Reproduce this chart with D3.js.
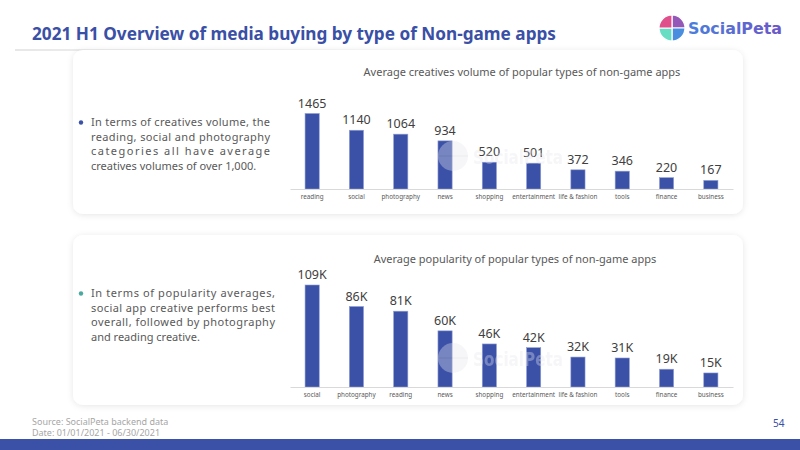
<!DOCTYPE html>
<html>
<head>
<meta charset="utf-8">
<title>2021 H1 Overview of media buying by type of Non-game apps</title>
<style>
body { margin: 0; background: #fff; }
svg { display: block; font-family: "Noto Sans", "Open Sans", sans-serif; }
.bartext { font-size: 12.5px; fill: #404040; }
.cat text { font-size: 6.3px; fill: #595959; }
.ctitle { font-size: 11px; fill: #595959; }
.note { font-size: 11px; fill: #595959; }
.foot { font-size: 9px; fill: #a6a6a6; }
</style>
</head>
<body>
<svg width="800" height="450"></svg>
<script src="https://cdn.jsdelivr.net/npm/d3@7"></script>
<script>

// data
var creativeCats = ["reading", "social", "photography", "news", "shopping", "entertainment", "life & fashion", "tools", "finance", "business"];
var creativeVals = [1465, 1140, 1064, 934, 520, 501, 372, 346, 220, 167];

var popCats = ["social", "photography", "reading", "news", "shopping", "entertainment", "life & fashion", "tools", "finance", "business"];
var popVals = [109, 86, 81, 60, 46, 42, 32, 31, 19, 15];   // thousands

var blue = "#3b51a8";

var svg = d3.select("svg");
var defs = svg.append("defs");

var shadow = defs.append("filter").attr("id", "shadow")
  .attr("x", "-10%").attr("y", "-20%").attr("width", "120%").attr("height", "140%");
shadow.append("feDropShadow").attr("dx", 0).attr("dy", 1).attr("stdDeviation", 3)
  .attr("flood-color", "#000").attr("flood-opacity", 0.10);

var fade = defs.append("linearGradient").attr("id", "fade");
fade.append("stop").attr("offset", "0%").attr("stop-color", "#d0d0d0");
fade.append("stop").attr("offset", "100%").attr("stop-color", "#ffffff");

var logoGrad = defs.append("linearGradient").attr("id", "logoText");
logoGrad.append("stop").attr("offset", "0%").attr("stop-color", "#4a7fdc");
logoGrad.append("stop").attr("offset", "100%").attr("stop-color", "#6b57c7");

// header
svg.append("text")
  .attr("x", 32).attr("y", 40)
  .attr("fill", "#3a4fa6")
  .style("font-size", "18px").style("font-weight", "bold")
  .attr("textLength", 524).attr("lengthAdjust", "spacingAndGlyphs")
  .text("2021 H1 Overview of media buying by type of Non-game apps");

svg.append("rect").attr("x", 15).attr("y", 49.5).attr("width", 420).attr("height", 1)
  .attr("fill", "url(#fade)");

// logo
var logo = svg.append("g").attr("transform", "translate(672,28)");
var quads = [
  {a0: -Math.PI / 2, a1: 0, c: "#9557b8"},
  {a0: 0, a1: Math.PI / 2, c: "#4a8ee0"},
  {a0: Math.PI / 2, a1: Math.PI, c: "#69dcc4"},
  {a0: Math.PI, a1: Math.PI * 1.5, c: "#e0508a"}
];
logo.selectAll("path").data(quads).enter().append("path")
  .attr("d", function(d) { return d3.arc().innerRadius(0).outerRadius(13).startAngle(d.a0 + Math.PI / 2).endAngle(d.a1 + Math.PI / 2)(); })
  .attr("fill", function(d) { return d.c; })
  .attr("stroke", "#fff").attr("stroke-width", 1.2);
svg.append("text")
  .attr("x", 688).attr("y", 34)
  .attr("fill", "url(#logoText)")
  .style("font-family", "'DejaVu Sans Condensed', 'DejaVu Sans', sans-serif")
  .style("font-size", "16px").style("font-weight", "bold")
  .attr("textLength", 94).attr("lengthAdjust", "spacingAndGlyphs")
  .text("SocialPeta");

// cards
svg.append("rect").attr("x", 73).attr("y", 50).attr("width", 670).attr("height", 164)
  .attr("rx", 10).attr("fill", "#fff").attr("filter", "url(#shadow)");
svg.append("rect").attr("x", 73).attr("y", 235).attr("width", 670).attr("height", 170)
  .attr("rx", 10).attr("fill", "#fff").attr("filter", "url(#shadow)");

function note(lines, y0, width, bullet) {
  svg.append("circle").attr("cx", 81).attr("cy", y0 - 3.5).attr("r", 2.2).attr("fill", bullet);
  lines.forEach(function(t, i) {
    var tx = svg.append("text").attr("class", "note")
      .attr("x", 91).attr("y", y0 + i * 14.5).text(t);
    if (i < lines.length - 1) tx.attr("textLength", width).attr("lengthAdjust", "spacing");
  });
}

note(["In terms of creatives volume, the",
      "reading, social and photography",
      "categories all have average",
      "creatives volumes of over 1,000."], 126, 179, blue);

note(["In terms of popularity averages,",
      "social app creative performs best",
      "overall, followed by photography",
      "and reading creative."], 297, 184, "#4aa99f");

function watermark(cx, cy) {
  var w = svg.append("g").attr("opacity", 0.35);
  w.append("circle").attr("cx", cx).attr("cy", cy).attr("r", 15).attr("fill", "#e6e6ee");
  w.append("line").attr("x1", cx - 15).attr("x2", cx + 15).attr("y1", cy).attr("y2", cy)
    .attr("stroke", "#bbb").attr("stroke-width", 0.6);
  w.append("text").attr("x", cx + 20).attr("y", cy + 8)
    .attr("fill", "#e6e6ee")
    .style("font-family", "'DejaVu Sans Condensed', sans-serif")
    .style("font-size", "19px").style("font-weight", "bold")
    .attr("textLength", 90).attr("lengthAdjust", "spacingAndGlyphs")
    .text("SocialPeta");
}

function barChart(cats, vals, fmt, title, titleX, titleY, yBase, yTop, wmY) {
  var x = d3.scaleBand().domain(cats).range([290, 733]).paddingInner(0.68).paddingOuter(0.34);
  var y = d3.scaleLinear().domain([0, d3.max(vals)]).range([yBase, yTop]);

  svg.append("text").attr("class", "ctitle")
    .attr("x", titleX).attr("y", titleY).attr("text-anchor", "middle").text(title);

  var g = svg.append("g");
  g.selectAll("rect").data(vals).enter().append("rect")
    .attr("x", function(d, i) { return x(cats[i]); })
    .attr("y", function(d) { return y(d); })
    .attr("width", x.bandwidth())
    .attr("height", function(d) { return yBase - y(d); })
    .attr("fill", blue)
    .attr("stroke", "#8f9dd3").attr("stroke-width", 0.6);

  g.selectAll("text").data(vals).enter().append("text")
    .attr("class", "bartext")
    .attr("x", function(d, i) { return x(cats[i]) + x.bandwidth() / 2; })
    .attr("y", function(d) { return y(d) - 6; })
    .attr("text-anchor", "middle")
    .text(fmt);

  var ax = svg.append("g").attr("class", "cat")
    .attr("transform", "translate(0," + yBase + ")")
    .call(d3.axisBottom(x).tickSize(0).tickPadding(6));
  ax.select(".domain").attr("stroke", "#d9d9d9");
  ax.selectAll("text").style("font-family", "'Noto Sans', sans-serif");

  watermark(453, wmY);
}

barChart(creativeCats, creativeVals, function(d) { return d; },
  "Average creatives volume of popular types of non-game apps", 522, 76, 189, 113.5, 156);

barChart(popCats, popVals, function(d) { return d + "K"; },
  "Average popularity of popular types of non-game apps", 515, 263, 387, 285, 358);

// footer
svg.append("text").attr("class", "foot").attr("x", 32).attr("y", 425).text("Source: SocialPeta backend data");
svg.append("text").attr("class", "foot").attr("x", 32).attr("y", 436).text("Date: 01/01/2021 - 06/30/2021");
svg.append("text").attr("x", 773).attr("y", 427).attr("fill", "#3a4fa6")
  .style("font-size", "10px").text("54");
svg.append("rect").attr("x", 0).attr("y", 439).attr("width", 800).attr("height", 11).attr("fill", blue);

</script>
</body>
</html>
